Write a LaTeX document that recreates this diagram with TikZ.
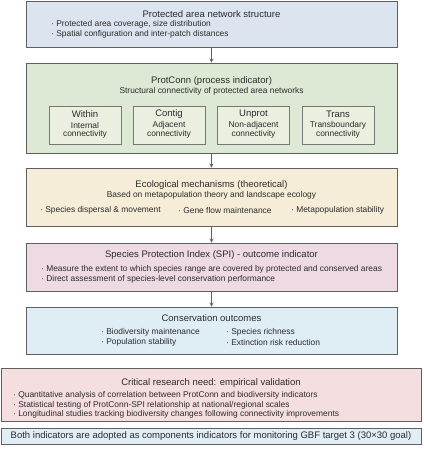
\documentclass[tikz,border=0pt]{standalone}
\usepackage{fontspec}
\setmainfont{Liberation Sans}

\definecolor{netfill}{HTML}{DCE4EF}
\definecolor{connfill}{HTML}{DDE8D5}
\definecolor{partfill}{HTML}{EBEFE0}
\definecolor{mechfill}{HTML}{F5EDD7}
\definecolor{spifill}{HTML}{EDDAE4}
\definecolor{outfill}{HTML}{DFEDF5}
\definecolor{needfill}{HTML}{F5DEE0}
\definecolor{gbffill}{HTML}{E1EEF5}
\definecolor{edgegray}{HTML}{5F5F5F}
\definecolor{txtgray}{HTML}{2B2B2B}

\begin{document}
\begin{tikzpicture}[
    x=1pt, y=-1pt,
    >=stealth,
    box/.style={draw=edgegray, line width=0.8pt, inner sep=0pt},
    partbox/.style={draw=edgegray!85, line width=0.8pt, fill=partfill, inner sep=0pt,
        minimum width=72pt, minimum height=38pt},
    head/.style={font=\fontsize{9.5}{11}\selectfont, text=txtgray, inner sep=0pt},
    item/.style={font=\fontsize{8.4}{10}\selectfont, text=txtgray, inner sep=0pt},
    flow/.style={->, draw=edgegray, line width=0.8pt},
]

\useasboundingbox (0,0) rectangle (423,460);

% Protected area network structure
\node[box, fill=netfill, minimum width=371pt, minimum height=46pt] (net) at (211.5,24) {};
\node[head] (net-head) at (211.5,14) {Protected area network structure};
\node[item, anchor=west] (net-a) at (51,24) {· Protected area coverage, size distribution};
\node[item, anchor=west] (net-b) at (51,34) {· Spatial configuration and inter-patch distances};

% ProtConn with its four fractions
\node[box, fill=connfill, minimum width=371pt, minimum height=90pt] (conn) at (211.5,108) {};
\node[head] (conn-head) at (211.5,81) {ProtConn (process indicator)};
\node[item] (conn-sub) at (211.5,91) {Structural connectivity of protected area networks};
\foreach \name/\x/\top/\lineA/\lineB in {within/85/Within/Internal/connectivity,
    contig/169/Contig/Adjacent/connectivity,
    unprot/253.5/Unprot/Non-adjacent/connectivity,
    trans/338/Trans/Transboundary/connectivity} {
    \node[partbox] (\name) at (\x,125) {};
    \node[head] (\name-head) at (\x,114) {\top};
    \node[item] (\name-a) at (\x,125) {\lineA};
    \node[item] (\name-b) at (\x,134) {\lineB};
}

% Ecological mechanisms
\node[box, fill=mechfill, minimum width=371pt, minimum height=58pt] (mech) at (211.5,197) {};
\node[head] (mech-head) at (211.5,185) {Ecological mechanisms (theoretical)};
\node[item] (mech-sub) at (211.5,195) {Based on metapopulation theory and landscape ecology};
\node[item, anchor=west] (mech-a) at (40,210) {· Species dispersal \& movement};
\node[item, anchor=west] (mech-b) at (178,210) {· Gene flow maintenance};
\node[item, anchor=west] (mech-c) at (291,210) {· Metapopulation stability};

% Species Protection Index
\node[box, fill=spifill, minimum width=371pt, minimum height=48pt] (spi) at (211.5,267) {};
\node[head] (spi-head) at (211.5,255) {Species Protection Index (SPI) - outcome indicator};
\node[item, anchor=west] (spi-a) at (41,269) {· Measure the extent to which species range are covered by protected and conserved areas};
\node[item, anchor=west] (spi-b) at (41,279) {· Direct assessment of species-level conservation performance};

% Conservation outcomes
\node[box, fill=outfill, minimum width=371pt, minimum height=47pt] (out) at (211.5,330.5) {};
\node[head] (out-head) at (211.5,318) {Conservation outcomes};
\node[item, anchor=west] (out-a) at (101,332) {· Biodiversity maintenance};
\node[item, anchor=west] (out-b) at (101,342) {· Population stability};
\node[item, anchor=west] (out-c) at (226,332) {· Species richness};
\node[item, anchor=west] (out-d) at (226,342) {· Extinction risk reduction};

% Research need
\node[box, fill=needfill, minimum width=420pt, minimum height=53pt] (need) at (211,394.5) {};
\node[head] (need-head) at (211,383.5) {Critical research need: empirical validation};
\node[item, anchor=west] (need-a) at (13,395.5) {· Quantitative analysis of correlation between ProtConn and biodiversity indicators};
\node[item, anchor=west] (need-b) at (13,405) {· Statistical testing of ProtConn-SPI relationship at national/regional scales};
\node[item, anchor=west] (need-c) at (13,414.5) {· Longitudinal studies tracking biodiversity changes following connectivity improvements};

% GBF note
\node[box, fill=gbffill, minimum width=420pt, minimum height=16pt] (gbf) at (211,436) {};
\node[head] (gbf-text) at (211,436) {Both indicators are adopted as components indicators for monitoring GBF target 3 (30×30 goal)};

% Flow between the levels
\draw[flow] (net) -- (conn);
\draw[flow] (conn) -- (mech);
\draw[flow] (mech) -- (spi);
\draw[flow] (spi) -- (out);

\end{tikzpicture}
\end{document}
